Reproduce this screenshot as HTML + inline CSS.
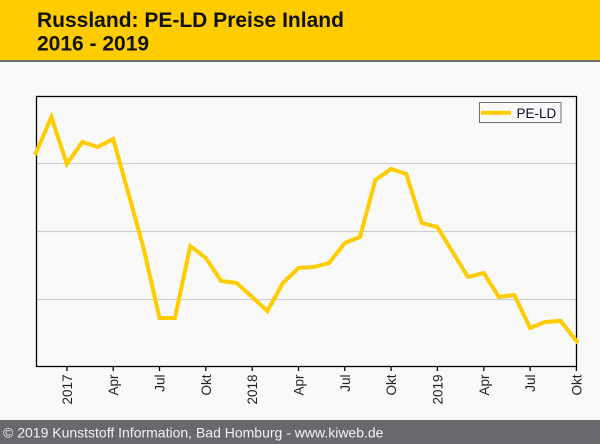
<!DOCTYPE html>
<html><head><meta charset="utf-8"><style>
html,body{margin:0;padding:0;background:#f9f9f9;}
svg{display:block;}
</style></head><body>
<svg width="600" height="444" viewBox="0 0 600 444" xmlns="http://www.w3.org/2000/svg" font-family="'Liberation Sans', Arial, sans-serif">
<rect x="0" y="0" width="600" height="444" fill="#f9f9f9"/>
<rect x="0" y="0" width="600" height="60" fill="#ffcc00"/>
<rect x="0" y="60" width="600" height="2" fill="#6e6e6e"/>
<text x="37" y="27" font-size="21" font-weight="bold" fill="#111">Russland: PE-LD Preise Inland</text>
<text x="37" y="50.5" font-size="21" font-weight="bold" fill="#111">2016 - 2019</text>

<!-- grid -->
<g stroke="#d0d0d0" stroke-width="1.2">
<line x1="36" y1="163.5" x2="576" y2="163.5"/>
<line x1="36" y1="231.5" x2="576" y2="231.5"/>
<line x1="36" y1="299.5" x2="576" y2="299.5"/>
</g>
<!-- plot border -->
<rect x="36.5" y="96.5" width="540" height="270" fill="none" stroke="#000" stroke-width="1.3"/>

<!-- ticks -->
<g stroke="#000" stroke-width="1.3">
<line x1="66.9" y1="366" x2="66.9" y2="371"/>
<line x1="113.2" y1="366" x2="113.2" y2="371"/>
<line x1="159.5" y1="366" x2="159.5" y2="371"/>
<line x1="205.8" y1="366" x2="205.8" y2="371"/>
<line x1="252.2" y1="366" x2="252.2" y2="371"/>
<line x1="298.5" y1="366" x2="298.5" y2="371"/>
<line x1="344.8" y1="366" x2="344.8" y2="371"/>
<line x1="391.1" y1="366" x2="391.1" y2="371"/>
<line x1="437.4" y1="366" x2="437.4" y2="371"/>
<line x1="483.8" y1="366" x2="483.8" y2="371"/>
<line x1="530.1" y1="366" x2="530.1" y2="371"/>
<line x1="576.4" y1="366" x2="576.4" y2="371"/>
</g>
<g font-size="13.5" fill="#222" text-anchor="end">
<text transform="translate(71.9,374.5) rotate(-90)">2017</text>
<text transform="translate(118.2,374.5) rotate(-90)">Apr</text>
<text transform="translate(164.5,374.5) rotate(-90)">Jul</text>
<text transform="translate(210.8,374.5) rotate(-90)">Okt</text>
<text transform="translate(257.2,374.5) rotate(-90)">2018</text>
<text transform="translate(303.5,374.5) rotate(-90)">Apr</text>
<text transform="translate(349.8,374.5) rotate(-90)">Jul</text>
<text transform="translate(396.1,374.5) rotate(-90)">Okt</text>
<text transform="translate(442.4,374.5) rotate(-90)">2019</text>
<text transform="translate(488.8,374.5) rotate(-90)">Apr</text>
<text transform="translate(535.1,374.5) rotate(-90)">Jul</text>
<text transform="translate(581.4,374.5) rotate(-90)">Okt</text>
</g>

<!-- series -->
<polyline fill="none" stroke="#ffcc00" stroke-width="4" stroke-linejoin="miter" stroke-miterlimit="3"
points="35,155 51.4,117 66.9,164 82.3,142 97.7,147 113.2,139 128.6,194 144,250 159.5,318 174.9,318 190.3,246 205.8,258 221.2,281 236.6,283 252.2,297 267.4,311 282.9,283 298.5,268 313.7,267 329.1,263 344.8,243 360,237 375.4,180 391.1,169 406.3,174 421.7,223 437.4,227 452.6,252 468,277 483.8,273 498.9,297 514.3,295 530.1,328 545.1,322 560.6,321 578,343"/>

<!-- legend -->
<rect x="479.5" y="102.5" width="81.5" height="20" fill="#f9f9f9" stroke="#707070" stroke-width="1"/>
<line x1="481" y1="112.7" x2="511" y2="112.7" stroke="#ffcc00" stroke-width="4"/>
<text x="516.5" y="118" font-size="13.5" fill="#0a0a30">PE-LD</text>

<!-- footer -->
<rect x="0" y="420" width="600" height="24" fill="#68696d"/>
<text x="3" y="437.5" font-size="14" fill="#f2f2f2">© 2019 Kunststoff Information, Bad Homburg - www.kiweb.de</text>
</svg>
</body></html>
